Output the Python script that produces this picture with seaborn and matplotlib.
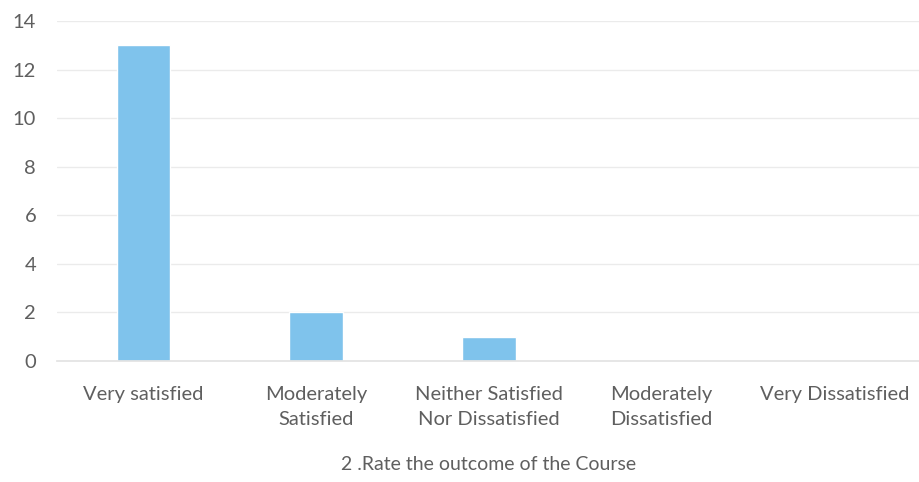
import matplotlib
matplotlib.use("Agg")
import matplotlib.pyplot as plt
import seaborn as sns
import pandas as pd

categories = ["Very satisfied", "Moderately\nSatisfied", "Neither Satisfied\nNor Dissatisfied",
              "Moderately\nDissatisfied", "Very Dissatisfied"]
counts = [13, 2, 1, 0, 0]
yticks = [0, 2, 4, 6, 8, 10, 12, 14]
xlabel = "2 .Rate the outcome of the Course"

sns.set_theme(style="white")
plt.rcParams["font.family"] = ["Lato", "DejaVu Sans"]

df = pd.DataFrame({"category": categories, "count": counts})

fig = plt.figure(figsize=(9.19, 4.82), dpi=100)
ax = fig.add_axes([0.062, 0.251, 0.940, 0.705])
sns.barplot(data=df, x="category", y="count", color="#7fc3ec", width=0.31,
            saturation=1, ax=ax, zorder=2)
ax.set_xlim(-0.5, 4.5)
ax.set_ylim(0, 14)
ax.set_yticks(yticks)
ax.yaxis.grid(True, color="#ebebeb", linewidth=1.0, zorder=0)
ax.set_axisbelow(True)
for s in ["top", "right", "left"]:
    ax.spines[s].set_visible(False)
ax.spines["bottom"].set_color("#e3e3e3")
ax.tick_params(axis="y", length=0, pad=15, labelsize=14.5, labelcolor="#5f5f5f")
ax.tick_params(axis="x", length=0, pad=18, labelsize=14.5, labelcolor="#5f5f5f")
ax.set_xticks(range(len(categories)))
ax.set_xticklabels(categories, linespacing=1.6)
ax.set_ylabel("")
ax.set_xlabel(xlabel, fontsize=14, color="#5f5f5f", labelpad=20)
fig.savefig("out.png", dpi=100)
